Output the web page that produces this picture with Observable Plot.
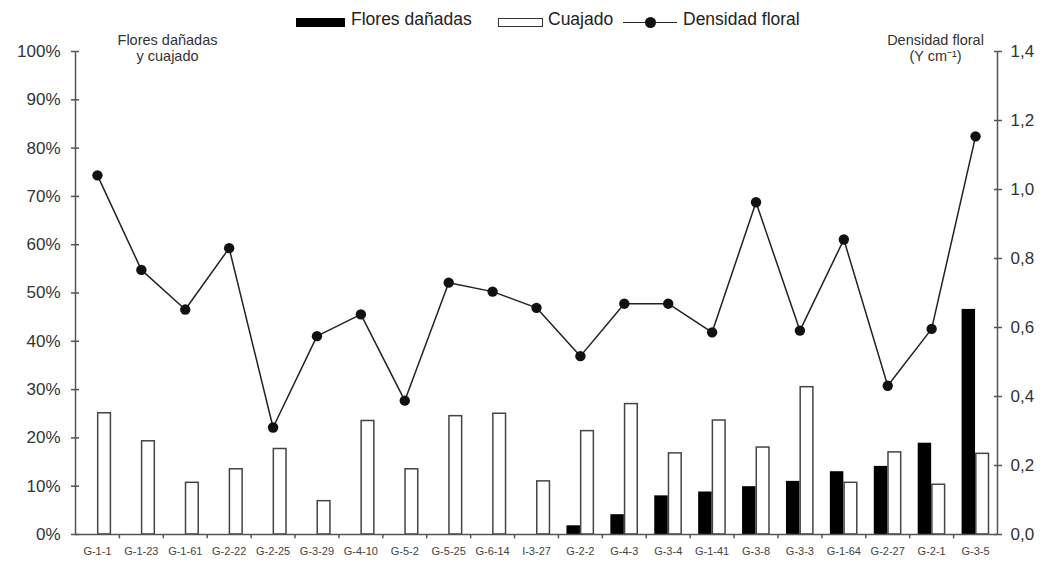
<!DOCTYPE html>
<html>
<head>
<meta charset="utf-8">
<script src="https://cdn.jsdelivr.net/npm/d3@7"></script>
<script src="https://cdn.jsdelivr.net/npm/@observablehq/plot@0.6"></script>
<style>
  html, body { margin: 0; padding: 0; background: #fff; }
  body { width: 1044px; height: 563px; overflow: hidden; font-family: "Liberation Sans", Arial, sans-serif; }
  #legend { position: relative; height: 34px; width: 1044px; color: #222; font-size: 17.5px; }
  #legend .sw { position: absolute; box-sizing: border-box; }
  #legend .lb { position: absolute; top: 9px; line-height: 20px; white-space: nowrap; }
</style>
</head>
<body>
<div id="legend">
  <div class="sw" style="left:296px; top:18px; width:49px; height:9px; background:#000;"></div>
  <div class="lb" style="left:351px;">Flores dañadas</div>
  <div class="sw" style="left:498px; top:18px; width:45px; height:9px; background:#fff; border:1.5px solid #333;"></div>
  <div class="lb" style="left:548px;">Cuajado</div>
  <div class="sw" style="left:623px; top:21.5px; width:54px; height:0; border-top:1.5px solid #222;"></div>
  <div class="sw" style="left:645px; top:17px; width:11px; height:11px; border-radius:50%; background:#111;"></div>
  <div class="lb" style="left:683px;">Densidad floral</div>
</div>
<div id="chart"></div>
<script>
// ---- data ----
const categories = ["G-1-1","G-1-23","G-1-61","G-2-22","G-2-25","G-3-29","G-4-10","G-5-2","G-5-25","G-6-14","I-3-27","G-2-2","G-4-3","G-3-4","G-1-41","G-3-8","G-3-3","G-1-64","G-2-27","G-2-1","G-3-5"];
const floresDanadas = [0,0,0,0,0,0,0,0,0,0,0,1.8,4.1,8.0,8.8,9.9,11.0,13.0,14.1,18.9,46.6]; // %
const cuajado = [25.1,19.3,10.7,13.5,17.7,6.9,23.5,13.5,24.5,25.0,11.0,21.4,27.0,16.8,23.6,18.0,30.5,10.7,17.0,10.3,16.7]; // %
const densidadFloral = [1.041,0.767,0.652,0.830,0.310,0.575,0.638,0.388,0.730,0.704,0.657,0.517,0.669,0.669,0.586,0.963,0.591,0.855,0.431,0.596,1.154];
const leftTicks = [0,10,20,30,40,50,60,70,80,90,100];
const rightTicks = [0,0.2,0.4,0.6,0.8,1.0,1.2,1.4];
const rightMax = 1.4;

// ---- build ----
const rows = categories.map((c, i) => ({cat: c, dan: floresDanadas[i], cua: cuajado[i], dens: densidadFloral[i]}));
const W = 1044, H = 529, mL = 75, mR = 47, mT = 17, mB = 29;
const bw = (W - mL - mR) / categories.length;
const toLeft = v => v / rightMax * 100;
const axisColor = "#555";

const chart = Plot.plot({
  width: W, height: H,
  marginTop: mT, marginBottom: mB, marginLeft: mL, marginRight: mR,
  style: {fontFamily: "'Liberation Sans', Arial, sans-serif", background: "#fff", color: "#333", overflow: "visible"},
  x: {type: "band", domain: categories, padding: 0, round: false, label: null},
  y: {domain: [0, 100], label: null},
  marks: [
    Plot.barY(rows.filter(d => d.dan > 0), {x: "cat", y: "dan", fill: "#000", insetLeft: 8.5, insetRight: bw / 2}),
    Plot.barY(rows, {x: "cat", y: "cua", fill: "#fff", stroke: "#444", strokeWidth: 1.5, insetLeft: bw / 2 + 0.75, insetRight: 8.5}),
    Plot.ruleY([0], {stroke: axisColor, strokeWidth: 1.5}),
    Plot.ruleX([categories[0]], {dx: -bw / 2, y1: 0, y2: 100, stroke: axisColor, strokeWidth: 1.5}),
    Plot.ruleX([categories[categories.length - 1]], {dx: bw / 2, y1: 0, y2: 100, stroke: axisColor, strokeWidth: 1.5}),
    Plot.ruleX(categories.slice(1), {dx: -bw / 2, y1: 0, y2: -0.9, stroke: axisColor, strokeWidth: 1.5}),
    Plot.axisX({anchor: "bottom", tickSize: 0, tickPadding: 13, fontSize: 11, fill: "#444", label: null}),
    Plot.axisY(leftTicks, {anchor: "left", tickSize: 8, dx: 4, tickPadding: 11, stroke: axisColor, strokeWidth: 1.5, fontSize: 17, fill: "#333", label: null, tickFormat: d => d + "%"}),
    Plot.axisY(rightTicks.map(toLeft), {anchor: "right", tickSize: 8, dx: -4, tickPadding: 9, stroke: axisColor, strokeWidth: 1.5, fontSize: 17, fill: "#333", label: null,
      tickFormat: d => (d / 100 * rightMax).toFixed(1).replace(".", ",")}),
    Plot.line(rows, {x: "cat", y: d => toLeft(d.dens), stroke: "#222", strokeWidth: 1.5}),
    Plot.dot(rows, {x: "cat", y: d => toLeft(d.dens), r: 5.2, fill: "#111"}),
    Plot.text(["Flores dañadas\ny cuajado"], {frameAnchor: "top-left", dx: 92, dy: -17, lineAnchor: "top", textAnchor: "middle", fontSize: 14.5, lineHeight: 1.05, fill: "#333"}),
    Plot.text(["Densidad floral\n(Y cm⁻¹)"], {frameAnchor: "top-right", dx: -62, dy: -17, lineAnchor: "top", textAnchor: "middle", fontSize: 14.5, lineHeight: 1.05, fill: "#333"})
  ]
});
document.getElementById("chart").appendChild(chart);
</script>
</body>
</html>
